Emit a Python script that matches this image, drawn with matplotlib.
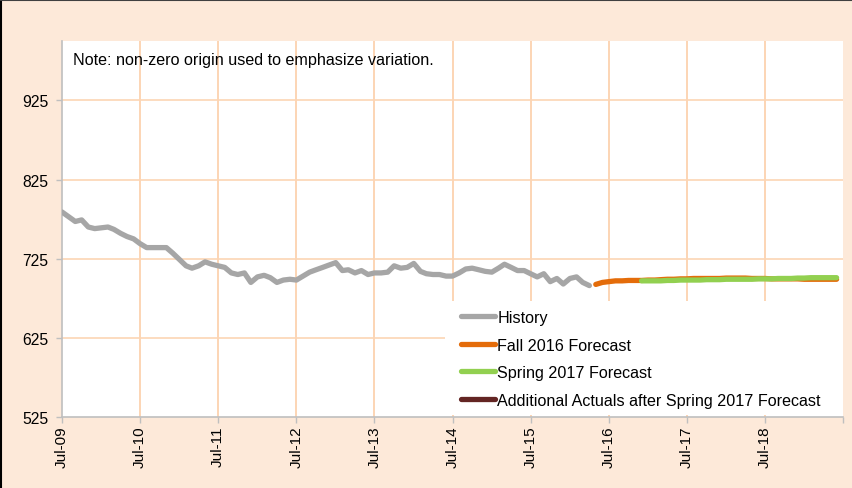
import matplotlib
matplotlib.use("Agg")
import matplotlib.pyplot as plt
from matplotlib.lines import Line2D
from matplotlib.patches import Rectangle
import pandas as pd

plt.rcParams['font.family'] = ['Liberation Sans', 'DejaVu Sans']

# monthly enrollment history, Jul-09 .. Apr-16
history = [784, 778, 772, 774, 765, 763, 764, 765, 762, 757, 753, 750,
           744, 739, 739, 739, 739, 732, 724, 716, 713, 716, 721, 718,
           716, 714, 707, 705, 707, 695, 702, 704, 701, 695, 698, 699,
           698, 703, 708, 711, 714, 717, 720, 710, 711, 707, 710, 705,
           707, 707, 708, 716, 713, 714, 719, 709, 706, 705, 705, 703,
           703, 707, 712, 713, 711, 709, 708, 713, 718, 714, 710, 710,
           706, 702, 706, 696, 700, 693, 700, 702, 695, 691]
history_start = '2009-07-01'

# Fall 2016 forecast, May-16 .. Jun-19
fall_2016 = [692.5, 695, 696, 697, 697, 697.5, 697.5, 697.5,
             698, 698, 698.5, 699, 699, 699.5, 699.5, 700, 700, 700, 700, 700,
             700.5, 700.5, 700.5, 700.5, 700, 700, 700, 699.5, 699.5, 699.5, 699.5, 699.5,
             699, 699, 699, 699, 699, 699]
fall_start = '2016-05-01'

# Spring 2017 forecast, Dec-16 .. Jun-19
spring_2017 = [697,
               697, 697, 697, 697.5, 697.5, 698, 698, 698, 698, 698.5, 698.5, 698.5,
               699, 699, 699, 699, 699, 699.5, 699.5, 699.5, 700, 700, 700, 700.5,
               700.5, 701, 701, 701, 701, 701]
spring_start = '2016-12-01'

# additional actuals after Spring 2017 forecast (none visible)
additional = []
additional_start = '2017-05-01'

y_ticks = [525, 625, 725, 825, 925]
x_labels = ['Jul-09', 'Jul-10', 'Jul-11', 'Jul-12', 'Jul-13', 'Jul-14',
            'Jul-15', 'Jul-16', 'Jul-17', 'Jul-18', '']

bg = '#FDE9D9'
grid_col = '#FCD5B4'
spine_col = '#BFBFBF'
colors = ['#A6A6A6', '#E46C0A', '#92D050', '#632523']
names = ['History', 'Fall 2016 Forecast', 'Spring 2017 Forecast',
         'Additional Actuals after Spring 2017 Forecast']
fs = 11.6

fig = plt.figure(figsize=(8.53, 4.89), dpi=100, facecolor=bg)
ax = fig.add_axes([62 / 853, 71 / 489, 781 / 853, 376 / 489])
ax.set_facecolor('white')

series = [(history, history_start), (fall_2016, fall_start),
          (spring_2017, spring_start), (additional, additional_start)]
for (vals, start), c in zip(series, colors):
    dates = pd.date_range(start, periods=len(vals), freq='MS')
    ax.plot(dates, vals, color=c, lw=3.8, solid_capstyle='round', zorder=3)

x_ticks = pd.date_range('2009-07-01', '2019-07-01', freq='12MS')
ax.set_xlim(x_ticks[0], x_ticks[-1])
ax.set_ylim(525, 1000)
ax.set_xticks(x_ticks)
ax.set_xticklabels(x_labels, rotation=90, fontsize=11)
ax.set_yticks(y_ticks)
ax.set_yticklabels([str(v) for v in y_ticks], fontsize=11.3)

for t in x_ticks[1:-1]:
    ax.axvline(t, color=grid_col, lw=1.4, zorder=1)
for v in y_ticks[1:]:
    ax.axhline(v, color=grid_col, lw=1.2, zorder=1)

for s in ['top', 'right']:
    ax.spines[s].set_visible(False)
for s in ['left', 'bottom']:
    ax.spines[s].set_color(spine_col)
    ax.spines[s].set_linewidth(1.2)
ax.tick_params(axis='both', colors=spine_col, labelcolor='black', length=4, width=1)
ax.tick_params(axis='y', pad=6)
ax.tick_params(axis='x', pad=2)

ax.text(0.014, 0.952, 'Note: non-zero origin used to emphasize variation.',
        transform=ax.transAxes, fontsize=fs, va='center', ha='left')

# white box behind the legend
box_x = (445 - 62) / 781
ax.add_patch(Rectangle((box_x, 0.004), 1 - box_x, (417 - 303) / 376, transform=ax.transAxes,
                       facecolor='white', edgecolor='none', zorder=4))

handles = [Line2D([], [], color=c, lw=3.8, solid_capstyle='round') for c in colors]
leg = ax.legend(handles, names, loc='upper left',
                bbox_to_anchor=((461 - 62) / 781, (418 - 311) / 376),
                borderaxespad=0.0, borderpad=0.0, fontsize=fs, frameon=False,
                handlelength=2.1, handletextpad=0.15, labelspacing=0.78)
leg.set_zorder(5)

# outer border of the chart area (left and top edges)
fig.add_artist(Line2D([0.001, 0.001], [0, 1], color='black', lw=1.5, transform=fig.transFigure))
fig.add_artist(Line2D([0, 1], [0.998, 0.998], color='#404040', lw=1.5, transform=fig.transFigure))

fig.savefig('out.png', dpi=100, facecolor=bg)
